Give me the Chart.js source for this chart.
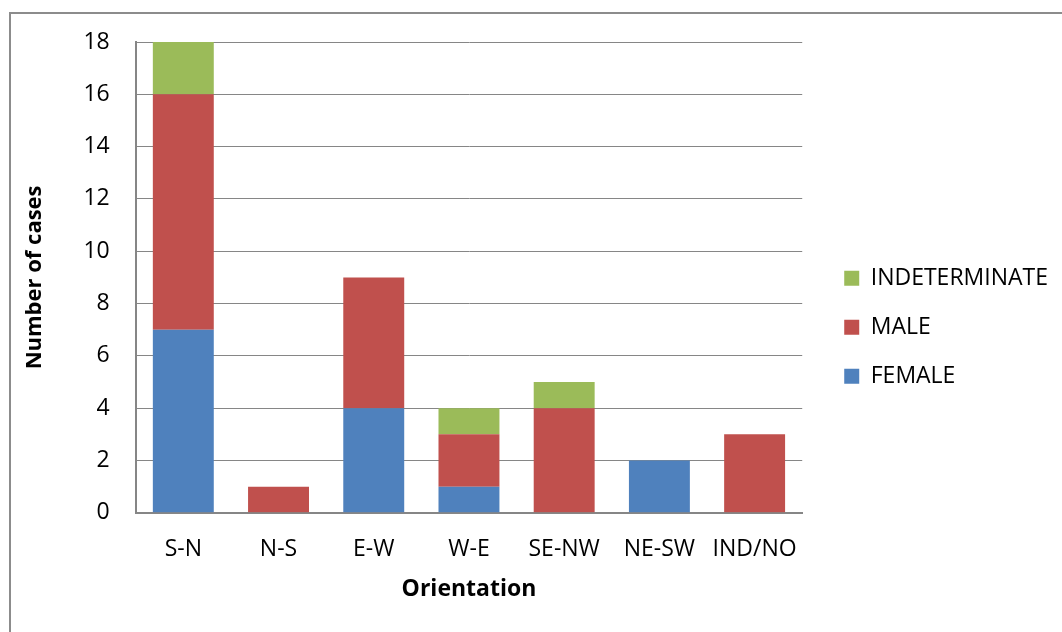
<!DOCTYPE html>
<html>
<head>
<meta charset="utf-8">
<script src="https://cdn.jsdelivr.net/npm/chart.js@4"></script>
<style>
  html, body { margin: 0; padding: 0; background: #fff; }
  #wrap { position: relative; width: 1062px; height: 632px; overflow: hidden; }
  #frame { position: absolute; left: 9px; top: 12px; width: 1100px; height: 700px; border: 2px solid #8c8c8c; box-sizing: border-box; }
  #c { position: absolute; left: 0; top: 0; }
</style>
</head>
<body>
<div id="wrap">
  <div id="frame"></div>
  <canvas id="c" width="1062" height="632"></canvas>
</div>
<script>
// orientation categories
var orientations = ['S-N', 'N-S', 'E-W', 'W-E', 'SE-NW', 'NE-SW', 'IND/NO'];
// cases per orientation
var female = [7, 0, 4, 1, 0, 2, 0];
var male = [9, 1, 5, 2, 4, 0, 3];
var indeterminate = [2, 0, 0, 1, 1, 0, 0];

var fontFamily = "'Open Sans', 'Liberation Sans', sans-serif";
var gridColor = '#868686';
var legendGap = 16;

// push the legend a bit away from the plot
var legendSpacer = {
    id: 'legendSpacer',
    afterInit: function (chart) {
        var legend = chart.legend;
        var fit = legend.fit, draw = legend.draw;
        legend.fit = function () { fit.call(this); this.width += legendGap; };
        legend.draw = function () {
            this.left += legendGap;
            draw.call(this);
            this.left -= legendGap;
        };
    }
};

var ctx = document.getElementById('c');
var chart = new Chart(ctx, {
    type: 'bar',
    data: {
        labels: orientations,
        datasets: [{
            label: 'FEMALE',
            data: female,
            backgroundColor: '#4F81BD'
        }, {
            label: 'MALE',
            data: male,
            backgroundColor: '#C0504D'
        }, {
            label: 'INDETERMINATE',
            data: indeterminate,
            backgroundColor: '#9BBB59'
        }]
    },
    options: {
        responsive: false,
        animation: false,
        layout: { padding: { left: 21, top: 42, right: 4, bottom: 29 } },
        datasets: { bar: { barPercentage: 0.64, categoryPercentage: 1 } },
        plugins: {
            tooltip: { enabled: false },
            legend: {
                position: 'right',
                reverse: true,
                // blank title, only nudges the items down a little
                title: { display: true, text: ' ', padding: 0, font: { size: 8 } },
                labels: {
                    boxWidth: 15,
                    boxHeight: 15,
                    padding: 26,
                    color: '#000',
                    font: { family: fontFamily, size: 23 }
                }
            }
        },
        scales: {
            x: {
                stacked: true,
                grid: { display: false, drawTicks: false },
                border: { color: gridColor, width: 2 },
                ticks: { color: '#000', padding: 23, font: { family: fontFamily, size: 23 } },
                title: {
                    display: true,
                    text: 'Orientation',
                    color: '#000',
                    padding: { top: -11, bottom: 0 },
                    font: { family: fontFamily, size: 23, weight: 'bold' }
                }
            },
            y: {
                stacked: true,
                min: 0,
                max: 18,
                grid: { color: gridColor, drawTicks: false },
                border: { color: gridColor, width: 2 },
                ticks: { stepSize: 2, color: '#000', padding: 26, font: { family: fontFamily, size: 23 } },
                title: {
                    display: true,
                    text: 'Number of cases',
                    color: '#000',
                    padding: { top: 1, bottom: 9 },
                    font: { family: fontFamily, size: 22, weight: 'bold' }
                }
            }
        }
    },
    plugins: [legendSpacer]
});
</script>
</body>
</html>
